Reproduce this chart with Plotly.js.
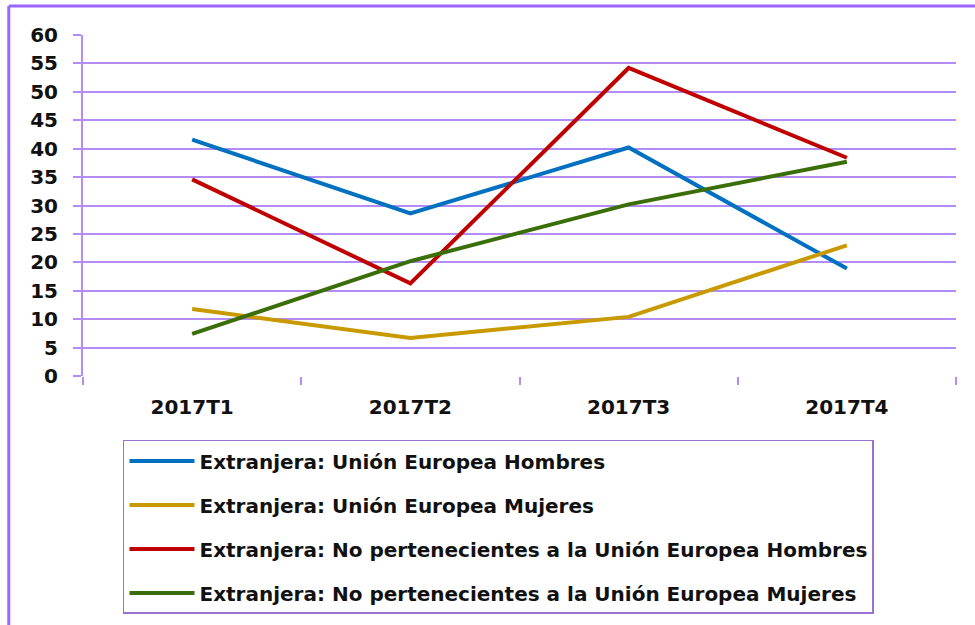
<!DOCTYPE html>
<html>
<head>
<meta charset="utf-8">
<script src="https://cdn.plot.ly/plotly-3.0.1.min.js"></script>
<style>html,body{margin:0;padding:0;background:#fff;}#chart{width:975px;height:625px;}</style>
</head>
<body>
<div id="chart"></div>
<script>
var categories = ["2017T1", "2017T2", "2017T3", "2017T4"];
var seriesNames = [
  "Extranjera: Unión Europea Hombres",
  "Extranjera: Unión Europea Mujeres",
  "Extranjera: No pertenecientes a la Unión Europea Hombres",
  "Extranjera: No pertenecientes a la Unión Europea Mujeres"
];
var ueHombres = [41.6, 28.6, 40.2, 18.9];
var ueMujeres = [11.8, 6.7, 10.4, 23.0];
var noUeHombres = [34.6, 16.3, 54.2, 38.4];
var noUeMujeres = [7.4, 20.2, 30.2, 37.7];
var yTicks = [0, 5, 10, 15, 20, 25, 30, 35, 40, 45, 50, 55, 60];

var colors = ["#0070c0", "#c89a00", "#c00000", "#3a6e08"];
var values = [ueHombres, ueMujeres, noUeHombres, noUeMujeres];
var font = "DejaVu Sans, Verdana, sans-serif";

var traces = values.map(function (v, i) {
  return {
    type: "scatter",
    mode: "lines",
    x: categories,
    y: v,
    name: seriesNames[i],
    legendgroup: "g" + i,
    line: {color: colors[i], width: 4}
  };
});

var grid = "#b48cf7";
var layout = {
  width: 975,
  height: 625,
  margin: {l: 83, r: 19, t: 35, b: 248},
  paper_bgcolor: "#ffffff",
  plot_bgcolor: "#ffffff",
  showlegend: true,
  font: {family: font, size: 20, color: "#111111"},
  xaxis: {
    type: "category",
    range: [-0.5, 3.5],
    tickson: "boundaries",
    ticks: "outside",
    ticklen: 8,
    tickcolor: grid,
    tickwidth: 2,
    showgrid: false,
    showline: false,
    zeroline: false,
    tickfont: {family: font, size: 20, color: "#111111", weight: "bold"},
    ticklabelstandoff: 17
  },
  yaxis: {
    range: [0, 60],
    tickvals: yTicks,
    ticktext: yTicks.map(String),
    ticks: "outside",
    ticklen: 8,
    tickcolor: grid,
    tickwidth: 2,
    showgrid: true,
    gridcolor: grid,
    gridwidth: 2,
    showline: true,
    linecolor: grid,
    linewidth: 2,
    zeroline: false,
    tickfont: {family: font, size: 20, color: "#111111", weight: "bold"},
    ticklabelstandoff: 11
  },
  legend: {
    x: 0.0458,
    y: -0.184,
    xanchor: "left",
    yanchor: "top",
    bordercolor: "#9b72cf",
    borderwidth: 1.5,
    bgcolor: "#ffffff",
    itemwidth: 65,
    tracegroupgap: 15,
    font: {family: font, size: 20, color: "#111111", weight: "bold"}
  },
  shapes: [
    {type: "line", xref: "paper", yref: "paper", x0: -0.085, x1: 1.1, y0: 1.085, y1: 1.085,
     line: {color: "#9a66ff", width: 3}},
    {type: "line", xref: "paper", yref: "paper", x0: -0.085, x1: -0.085, y0: 1.085, y1: -0.8,
     line: {color: "#9a66ff", width: 3}}
  ]
};

Plotly.newPlot("chart", traces, layout, {displayModeBar: false, staticPlot: true});
</script>
</body>
</html>
